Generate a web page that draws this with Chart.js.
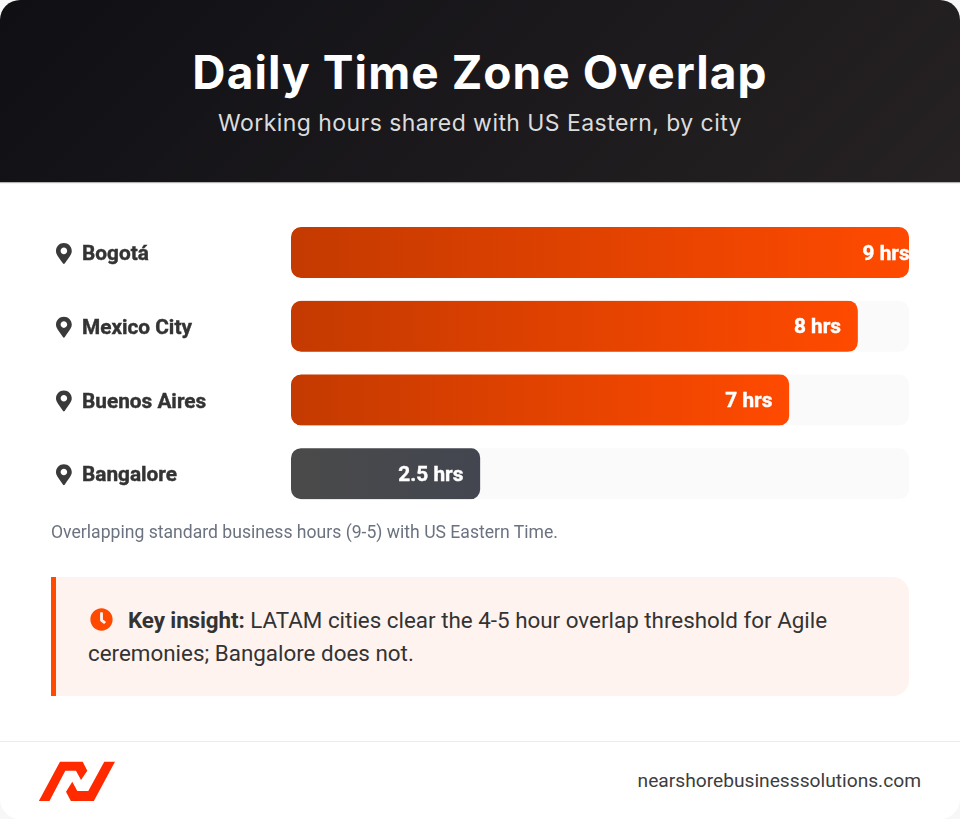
<!DOCTYPE html>
<html>
<head>
<meta charset="utf-8">
<script src="https://cdn.jsdelivr.net/npm/chart.js@4/dist/chart.umd.min.js"></script>
<style>
    html, body { margin: 0; padding: 0; background: #f7f7f7; }
    #card { position: relative; width: 960px; height: 819px; overflow: hidden; border-radius: 20px; background: #fff; font-family: Roboto, sans-serif; }
    #header { position: absolute; left: 0; top: 0; width: 960px; height: 182px; background: linear-gradient(135deg, #0f0f14, #262223); box-shadow: 0 1px 1px rgba(0,0,0,.3); }
    #title { position: absolute; left: 0; width: 960px; top: 41px; text-align: center; color: #fff; font: 700 46px/62px Inter, sans-serif; letter-spacing: 1.09px; }
    #subtitle { position: absolute; left: 0; width: 960px; top: 106px; text-align: center; color: #dcdcdc; font: 400 23px/34px Inter, sans-serif; letter-spacing: 0.44px; }
    #chartWrap { position: absolute; left: 0; top: 200px; width: 960px; height: 326px; }
    #caption { position: absolute; left: 51px; top: 520px; font-size: 17.6px; line-height: 24px; color: #6b7280; }
    #callout { position: absolute; left: 51px; top: 577px; width: 858px; height: 119px; box-sizing: border-box; background: #fff3ef; border-left: 5px solid #ff4a00; border-radius: 0 16px 16px 0; }
    #calloutText { position: absolute; left: 32px; top: 26.5px; width: 790px; font-size: 22.4px; line-height: 33px; color: #333; }
    #calloutText b { letter-spacing: -0.1px; }
    #calloutText svg { width: 23px; height: 23px; vertical-align: -3px; margin: 0 15px 0 2px; fill: #ff4a00; }
    #footer { position: absolute; left: 0; top: 741px; width: 960px; height: 78px; border-top: 1px solid #ececec; box-sizing: border-box; }
    #logo { position: absolute; left: 0; top: -11px; }
    #site { position: absolute; right: 39px; top: 25px; font-size: 19.2px; line-height: 28px; color: #3d3d3d; }
</style>
</head>
<body>
<div id="card">
    <div id="header">
        <div id="title">Daily Time Zone Overlap</div>
        <div id="subtitle">Working hours shared with US Eastern, by city</div>
    </div>
    <div id="chartWrap"><canvas id="overlapChart" width="960" height="326"></canvas></div>
    <div id="caption">Overlapping standard business hours (9-5) with US Eastern Time.</div>
    <div id="callout">
        <div id="calloutText"><svg viewBox="0 0 512 512"><path d="M256,8C119,8,8,119,8,256S119,504,256,504,504,393,504,256,393,8,256,8Zm92.49,313h0l-20,25a16,16,0,0,1-22.49,2.5h0l-67-49.72a40,40,0,0,1-15-31.23V112a16,16,0,0,1,16-16h32a16,16,0,0,1,16,16V256l58,42.5A16,16,0,0,1,348.49,321Z"/></svg><b>Key insight:</b> LATAM cities clear the 4-5 hour overlap threshold for Agile ceremonies; Bangalore does not.</div>
    </div>
    <div id="footer">
        <svg id="logo" width="130" height="70" viewBox="0 0 130 70">
            <path fill="#ff2a00" d="M38.7 70.3 60 30.7H82.7L87.3 39.7 81 49 76 39.7H65.3L49.3 70.3Z M115 30.7H104.3L88.3 60H77.3L72.3 50.7 66 60.7 71 70.3H93.7Z"/>
        </svg>
        <div id="site">nearshorebusinesssolutions.com</div>
    </div>
</div>

<script>
// values
const cities = ['Bogotá', 'Mexico City', 'Buenos Aires', 'Bangalore'];
const overlapHours = [9, 8, 7, 2.5];
const valueLabels = ['9 hrs', '8 hrs', '7 hrs', '2.5 hrs'];

// the bars carry 17px of padding on top of their length, so the axis starts below zero
const axisMin = -0.25;
const axisMax = 8.75;
const trackEnds = cities.map(() => axisMax);

const barColours = [
    ['#c43a00', '#ff4a00'],
    ['#c43a00', '#ff4a00'],
    ['#c43a00', '#ff4a00'],
    ['#4a4a4a', '#434650']
];

const pinPath = new Path2D('M172.268 501.67C26.97 291.031 0 268.413 0 192 0 85.961 85.961 0 192 0s192 85.961 192 192c0 76.413-26.97 99.031-172.268 309.67-9.535 13.774-29.93 13.773-39.464 0zM192 272c44.183 0 80-35.817 80-80s-35.817-80-80-80-80 35.817-80 80 35.817 80 80 80z');

const BAR_HEIGHT = 51;
const RADIUS = 10;

// left to right gradient over the visible length of the bar
function barGradient(context) {
    const chart = context.chart;
    if (!chart.chartArea) return barColours[context.dataIndex][0];
    const x = chart.scales.x;
    const left = x.getPixelForValue(axisMin);
    const right = Math.min(x.getPixelForValue(overlapHours[context.dataIndex]), chart.chartArea.right);
    const g = chart.ctx.createLinearGradient(left, 0, right, 0);
    g.addColorStop(0, barColours[context.dataIndex][0]);
    g.addColorStop(1, barColours[context.dataIndex][1]);
    return g;
}

const trackPlugin = {
    id: 'trackPlugin',
    // everything stays inside the rounded tracks
    beforeDatasetsDraw(chart) {
        const { ctx, chartArea, scales } = chart;
        ctx.save();
        ctx.beginPath();
        cities.forEach((c, i) => {
            ctx.roundRect(chartArea.left, scales.y.getPixelForValue(i) - BAR_HEIGHT / 2, chartArea.width, BAR_HEIGHT, RADIUS);
        });
        ctx.clip();
    },
    afterDatasetsDraw(chart) {
        const { ctx, scales } = chart;
        ctx.restore();
        ctx.save();
        ctx.fillStyle = '#fff';
        ctx.strokeStyle = '#fff';
        ctx.lineWidth = 0.4;
        ctx.font = '700 20.8px Roboto';
        ctx.textAlign = 'right';
        ctx.textBaseline = 'middle';
        valueLabels.forEach((label, i) => {
            const px = scales.x.getPixelForValue(overlapHours[i]) - 16.5;
            const py = scales.y.getPixelForValue(i) + 2;
            ctx.fillText(label, px, py);
            ctx.strokeText(label, px, py);
        });
        // map pins in front of the city names
        ctx.fillStyle = '#3a3a3a';
        cities.forEach((c, i) => {
            ctx.save();
            ctx.translate(56, scales.y.getPixelForValue(i) - 9.5);
            ctx.scale(21 / 512, 21 / 512);
            ctx.fill(pinPath);
            ctx.restore();
        });
        ctx.restore();
    }
};

new Chart(document.getElementById('overlapChart'), {
    type: 'bar',
    data: {
        labels: cities,
        datasets: [
            {
                data: overlapHours,
                base: axisMin,
                grouped: false,
                clip: false,
                barThickness: BAR_HEIGHT,
                borderRadius: RADIUS,
                borderSkipped: false,
                backgroundColor: barGradient
            },
            {
                data: trackEnds,
                base: axisMin,
                grouped: false,
                clip: false,
                barThickness: BAR_HEIGHT,
                backgroundColor: '#fafafa'
            }
        ]
    },
    plugins: [trackPlugin],
    options: {
        indexAxis: 'y',
        responsive: false,
        animation: false,
        layout: { padding: { left: 82, right: 51, top: 15.67, bottom: 0 } },
        plugins: {
            legend: { display: false },
            tooltip: { enabled: false }
        },
        scales: {
            x: { display: false, min: axisMin, max: axisMax },
            y: {
                afterFit(scale) { scale.width = 209; },
                grid: { display: false },
                border: { display: false },
                ticks: {
                    crossAlign: 'far',
                    labelOffset: 2.5,
                    color: '#333',
                    textStrokeColor: '#333',
                    textStrokeWidth: 0.4,
                    font: { family: 'Roboto', size: 20.8, weight: '700' }
                }
            }
        }
    }
});
</script>
</body>
</html>
